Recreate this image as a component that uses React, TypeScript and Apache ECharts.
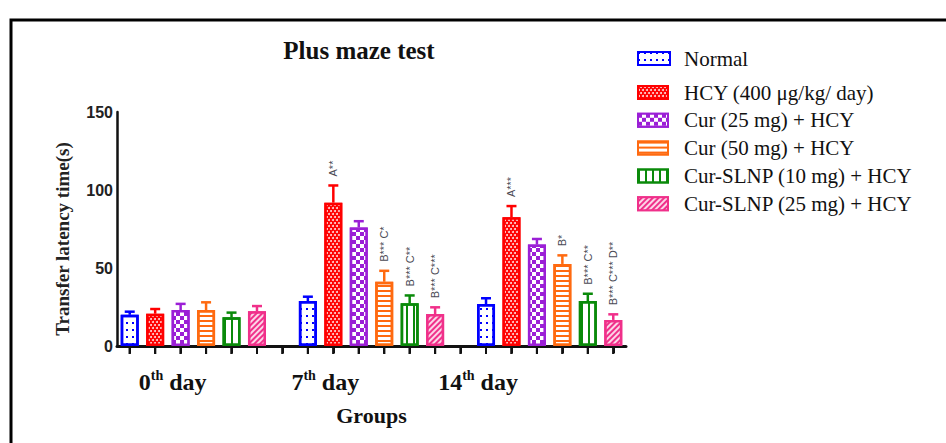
import React, { useEffect, useRef } from "react";
import * as echarts from "echarts";

// ---- data ----
const days = ["0", "7", "14"];
const groups = [
  "Normal",
  "HCY (400 μg/kg/ day)",
  "Cur (25 mg) + HCY",
  "Cur (50 mg) + HCY",
  "Cur-SLNP (10 mg) + HCY",
  "Cur-SLNP (25 mg) + HCY",
];
// mean values per group for day 0, 7, 14
const normalMean = [20, 28.8, 26.9];
const hcyMean = [20.7, 91.9, 82.5];
const cur25Mean = [23, 76, 65];
const cur50Mean = [23, 41.2, 52.6];
const slnp10Mean = [18.4, 27.4, 28.8];
const slnp25Mean = [22.2, 20.5, 16.7];
// SEM (upper whisker) per group
const normalErr = [2, 2.8, 3.7];
const hcyErr = [3, 11, 7.2];
const cur25Err = [4, 4, 3.6];
const cur50Err = [5, 7, 5.5];
const slnp10Err = [3, 5, 4.7];
const slnp25Err = [3.4, 4.3, 3.6];
// significance notes
const normalNote = ["", "", ""];
const hcyNote = ["", "A**", "A***"];
const cur25Note = ["", "", ""];
const cur50Note = ["", "B*** C*", "B*"];
const slnp10Note = ["", "B*** C**", "B*** C**"];
const slnp25Note = ["", "B*** C***", "B*** C*** D**"];
const yTicks = [0, 50, 100, 150];

const means = [normalMean, hcyMean, cur25Mean, cur50Mean, slnp10Mean, slnp25Mean];
const errs = [normalErr, hcyErr, cur25Err, cur50Err, slnp10Err, slnp25Err];
const notes = [normalNote, hcyNote, cur25Note, cur50Note, slnp10Note, slnp25Note];

const colors = ["#0000FF", "#FF0000", "#9B1FD6", "#FF6A10", "#0A8A0A", "#F0308A"];
const fills = ["#FFFFFF", "#FF0000", "#9B1FD6", "#FFFFFF", "#FFFFFF", "#F0308A"];
const decals: any[] = [
  { symbol: "rect", symbolSize: 1, color: "#0000FF", dashArrayX: [2, 4], dashArrayY: [2, 5] },
  { symbol: "circle", symbolSize: 1, color: "rgba(255,255,255,0.85)", dashArrayX: [[2, 2], [0, 2, 2, 0]], dashArrayY: [2, 1] },
  { symbol: "rect", symbolSize: 1, color: "#FFFFFF", dashArrayX: [[4, 4], [0, 4, 4, 0]], dashArrayY: [4, 0] },
  { symbol: "rect", symbolSize: 1, color: "#FF6A10", dashArrayX: [1, 0], dashArrayY: [2, 3] },
  { symbol: "rect", symbolSize: 1, color: "#0A8A0A", dashArrayX: [2, 5], dashArrayY: [1, 0] },
  { symbol: "rect", symbolSize: 1, color: "rgba(255,255,255,0.8)", dashArrayX: [1, 0], dashArrayY: [2, 2], rotation: -Math.PI / 4 },
];

const slotsPerDay = 7;
const nSlots = 20;
const slots = Array.from({ length: nSlots }, (_, i) => String(i));
const labelSlots: Record<number, string> = { 2: days[0], 8: days[1], 14: days[2] };

const GRID = { left: 117, right: 320, top: 112, bottom: 97 };
const W = 946;
const H = 443;

export default function App() {
  const ref = useRef<HTMLDivElement>(null);
  useEffect(() => {
    if (!ref.current) return;
    const chart = echarts.init(ref.current, null, { renderer: "svg" });

    const barSeries = groups.map((g, gi) => ({
      name: g,
      type: "bar",
      barWidth: 18,
      barGap: "-100%",
      clip: false,
      data: slots.map((_, si) => {
        const d = Math.floor(si / slotsPerDay);
        const pos = si % slotsPerDay;
        return pos === gi && d < days.length ? means[gi][d] : "-";
      }),
      itemStyle: {
        color: fills[gi],
        borderColor: colors[gi],
        borderWidth: 2.5,
        decal: decals[gi],
      },
      z: 2,
    }));

    const errSeries = groups.map((g, gi) => ({
      type: "custom",
      name: g + " err",
      z: 3,
      silent: true,
      clip: false,
      data: days.map((_, d) => [d * slotsPerDay + gi, means[gi][d], errs[gi][d]]),
      renderItem: (params: any, api: any) => {
        const x = api.value(0);
        const m = api.value(1);
        const e = api.value(2);
        const base = api.coord([x, m]);
        const top = api.coord([x, m + e]);
        const st = { stroke: colors[gi], lineWidth: 2.5 };
        const children: any[] = [
          { type: "line", shape: { x1: base[0], y1: base[1], x2: top[0], y2: top[1] }, style: st },
          { type: "line", shape: { x1: top[0] - 5, y1: top[1], x2: top[0] + 5, y2: top[1] }, style: st },
        ];
        const note = notes[gi][params.dataIndex];
        if (note) {
          children.push({
            type: "text",
            x: top[0],
            y: top[1] - 9,
            rotation: Math.PI / 2,
            style: {
              text: note,
              align: "left",
              verticalAlign: "middle",
              fill: "#4a4a55",
              font: "11px 'Liberation Sans'",
            },
          });
        }
        return { type: "group", children };
      },
    }));

    // tick marks under the x axis at every slot centre (through the axis scale)
    const tickSeries = {
      type: "custom",
      name: "ticks",
      silent: true,
      z: 5,
      clip: false,
      data: slots.map((_, i) => [i, yTicks[0]]),
      renderItem: (_p: any, api: any) => {
        const p = api.coord([api.value(0), api.value(1)]);
        return {
          type: "line",
          shape: { x1: p[0], y1: p[1] + 1, x2: p[0], y2: p[1] + 8 },
          style: { stroke: "#111", lineWidth: 2 },
        };
      },
    };

    // same tick marks as graphic lines, from the grid's band layout
    const plotW = W - GRID.left - GRID.right;
    const band = plotW / nSlots;
    const axisY = H - GRID.bottom;
    const tickGraphics = slots.map((_, i) => ({
      type: "line",
      shape: {
        x1: GRID.left + band * (i + 0.5),
        y1: axisY + 1,
        x2: GRID.left + band * (i + 0.5),
        y2: axisY + 8,
      },
      style: { stroke: "#111", lineWidth: 2 },
      silent: true,
      z: 50,
    }));

    const legendText = (padLeft: number) => ({
      fontFamily: "Liberation Serif",
      fontSize: 21,
      color: "#111",
      lineHeight: 20,
      padding: [0, 0, 0, padLeft],
    });

    chart.setOption({
      animation: false,
      title: {
        text: "Plus maze test",
        left: 354,
        top: 33,
        textAlign: "center",
        textStyle: { fontFamily: "Liberation Serif", fontWeight: "bold", fontSize: 25, color: "#111" },
      },
      legend: [
        {
          data: [groups[0]],
          left: 632,
          top: 43,
          orient: "vertical",
          itemWidth: 32,
          itemHeight: 13,
          textStyle: legendText(9),
          icon: "rect",
        },
        {
          data: groups.slice(1),
          left: 632,
          top: 77,
          orient: "vertical",
          itemWidth: 30,
          itemHeight: 13,
          itemGap: 6.8,
          textStyle: legendText(11),
          icon: "rect",
        },
      ],
      grid: { ...GRID, containLabel: false },
      xAxis: {
        type: "category",
        data: slots,
        name: "Groups",
        nameLocation: "middle",
        nameGap: 58,
        nameTextStyle: { fontFamily: "Liberation Serif", fontWeight: "bold", fontSize: 22, color: "#111" },
        axisLine: { show: true, onZero: false, lineStyle: { color: "#111", width: 3 } },
        axisTick: { show: true, interval: 0, alignWithLabel: true, length: 7, lineStyle: { color: "#111", width: 2 } },
        splitLine: { show: false },
        axisLabel: {
          interval: 0,
          formatter: (_v: string, i: number) =>
            labelSlots[i] !== undefined ? `{n|${labelSlots[i]}}{s|th}{n| day}{g|}` : "",
          margin: 22,
          rich: {
            n: { fontFamily: "Liberation Serif", fontWeight: "bold", fontSize: 24, color: "#111", verticalAlign: "bottom", lineHeight: 26 },
            s: { fontFamily: "Liberation Serif", fontWeight: "bold", fontSize: 14, color: "#111", verticalAlign: "top", lineHeight: 26, padding: [0, 0, 10, 0] },
            g: { width: 16 },
          },
        },
      },
      yAxis: {
        type: "value",
        min: yTicks[0],
        max: yTicks[yTicks.length - 1],
        interval: yTicks[1] - yTicks[0],
        name: "Transfer latency time(s)",
        nameLocation: "middle",
        nameGap: 45,
        nameTextStyle: { fontFamily: "Liberation Serif", fontWeight: "bold", fontSize: 19, color: "#222", padding: [0, 20, 0, 0] },
        axisLine: { show: true, lineStyle: { color: "#111", width: 2.5 } },
        axisTick: { show: false },
        splitLine: { show: false },
        axisLabel: { fontFamily: "Liberation Sans", fontWeight: "bold", fontSize: 16, color: "#222", margin: 4 },
      },
      graphic: [
        {
          type: "rect",
          shape: { x: 11, y: 20, width: 1000, height: 500 },
          style: { fill: "transparent", stroke: "#000", lineWidth: 3 },
          silent: true,
          z: -1,
        },
        ...tickGraphics,
      ],
      series: [...barSeries, ...errSeries, tickSeries],
    });

    return () => chart.dispose();
  }, []);
  return (
    <div
      ref={ref}
      style={{ position: "fixed", left: 0, top: 0, width: W, height: H, background: "#fff" }}
    />
  );
}
